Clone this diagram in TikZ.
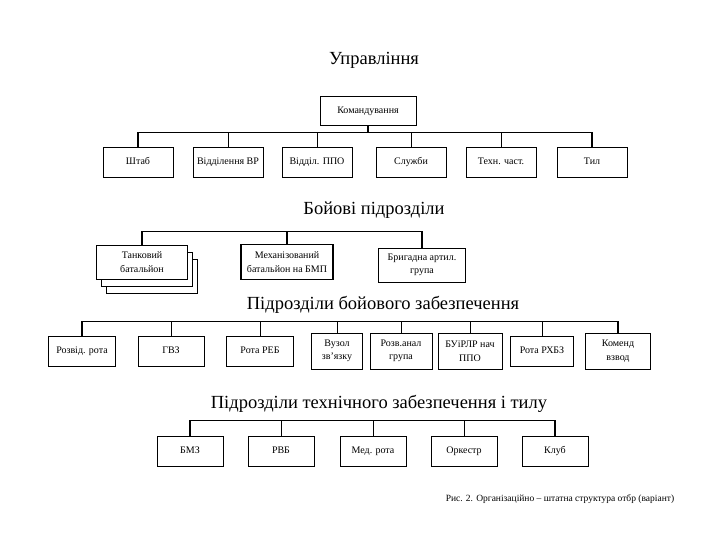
\documentclass[tikz,border=0pt]{standalone}
\usepackage{fontspec}
\setmainfont{Liberation Serif}
\usetikzlibrary{positioning}

\tikzset{
  unit/.style={draw, line width=0.8pt, fill=white, align=center, minimum height=30pt,
    inner sep=1pt, font=\fontsize{10}{13.5}\selectfont},
  oneline/.style={unit, text height=7pt, text depth=2pt},
  heading/.style={font=\fontsize{18.5}{22}\selectfont},
  bus/.style={line width=1.1pt},
  stem/.style={line width=0.7pt},
}

\begin{document}
\begin{tikzpicture}[x=1pt, y=-1pt]
  \useasboundingbox (0,0) rectangle (720,540);

  % Management
  \node[heading] (upr) at (374,60) {Управління};
  \node[oneline, minimum width=96pt, minimum height=29pt] (komand) at (368,111) {Командування};
  \node[oneline, minimum width=70pt] (shtab) at (138,162) {Штаб};
  \node[oneline, minimum width=70pt] (vr) at (228,162) {Відділення ВР};
  \node[oneline, minimum width=70pt] (ppo) at (317,162) {Відділ. ППО};
  \node[oneline, minimum width=70pt] (sluzh) at (411,162) {Служби};
  \node[oneline, minimum width=70pt] (tekh) at (501,162) {Техн. част.};
  \node[oneline, minimum width=70pt] (tyl) at (592,162) {Тил};
  \draw[bus] (shtab.north) -- ++(0,-14) coordinate(b1) -| (tyl.north);
  \draw[bus] (komand.south) -- (komand.south |- b1);
  \foreach \n in {vr,ppo,sluzh,tekh}
    \draw[stem] (\n.north) -- (\n.north |- b1);

  % Combat units
  \node[heading] (boi) at (374,210) {Бойові підрозділи};
  \node[unit, minimum width=91pt, minimum height=34pt] (tank3) at (152,276) {};
  \node[unit, minimum width=91pt, minimum height=34pt] (tank2) at (147,269) {};
  \node[unit, minimum width=91pt, minimum height=34pt] (tank) at (142,262) {Танковий\\батальйон};
  \node[unit, minimum width=92pt, minimum height=35pt, line width=1.2pt] (mekh) at (287,262) {Механізований\\батальйон на БМП};
  \node[unit, minimum width=87pt, minimum height=34pt] (brig) at (422,265) {Бригадна артил.\\група};
  \draw[bus] (tank.north) -- ++(0,-13) coordinate(b2) -| (brig.north);
  \draw[bus] (mekh.north) -- (mekh.north |- b2);

  % Combat support units
  \node[heading] (zab) at (383,305) {Підрозділи бойового забезпечення};
  \node[oneline, minimum width=67pt] (rozv) at (82,351) {Розвід. рота};
  \node[oneline, minimum width=66pt] (gvz) at (171,351) {ГВЗ};
  \node[oneline, minimum width=67pt] (reb) at (260,351) {Рота РЕБ};
  \node[unit, minimum width=51pt, minimum height=36pt] (vuzol) at (337,351) {Вузол\\зв'язку};
  \node[unit, minimum width=62pt, minimum height=36pt] (ranal) at (401,351) {Розв.анал\\група};
  \node[unit, minimum width=64pt, minimum height=36pt] (buir) at (470,351) {БУіРЛР нач\\ППО};
  \node[oneline, minimum width=63pt] (rkhbz) at (542,351) {Рота РХБЗ};
  \node[unit, minimum width=65pt, minimum height=36pt] (kvzvod) at (618,351) {Коменд\\взвод};
  \draw[bus] (rozv.north) -- ++(0,-14) coordinate(b3) -| (kvzvod.north);
  \foreach \n in {gvz,reb,vuzol,ranal,buir,rkhbz}
    \draw[stem] (\n.north) -- (\n.north |- b3);

  % Technical support and rear units
  \node[heading] (tyly) at (379,404) {Підрозділи технічного забезпечення і тилу};
  \node[oneline, minimum width=66pt] (bmz) at (190,451) {БМЗ};
  \node[oneline, minimum width=66pt] (rvb) at (281,451) {РВБ};
  \node[oneline, minimum width=66pt] (medr) at (373,451) {Мед. рота};
  \node[oneline, minimum width=66pt] (orkestr) at (464,451) {Оркестр};
  \node[oneline, minimum width=66pt] (klub) at (555,451) {Клуб};
  \draw[bus] (bmz.north) -- ++(0,-15) coordinate(b4) -| (klub.north);
  \foreach \n in {rvb,medr,orkestr}
    \draw[stem] (\n.north) -- (\n.north |- b4);

  % Caption
  \node[font=\fontsize{9.5}{11}\selectfont] (caption) at (560,499) {Рис. 2. Організаційно – штатна структура отбр (варіант)};
\end{tikzpicture}
\end{document}
